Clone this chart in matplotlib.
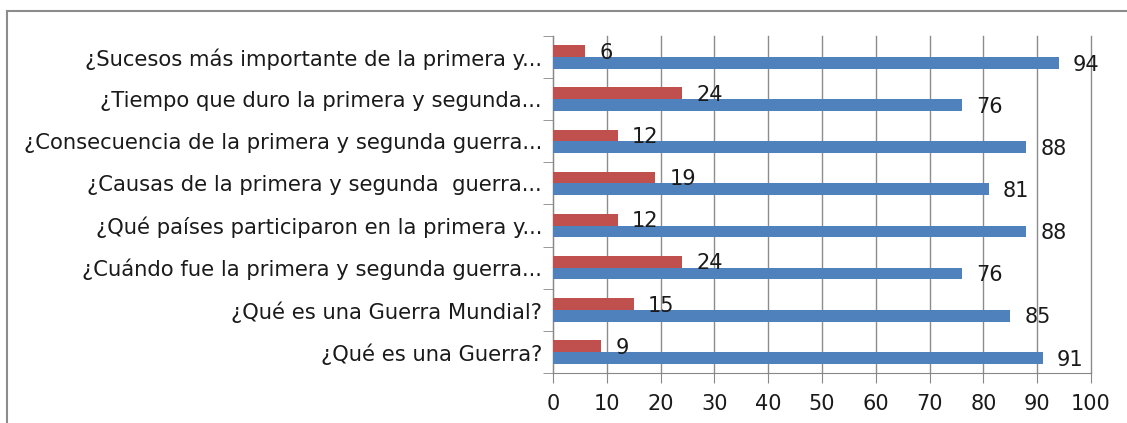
import numpy as np
import matplotlib.pyplot as plt
from matplotlib.lines import Line2D

categories = [
    '¿Sucesos más importante de la primera y...',
    '¿Tiempo que duro la primera y segunda...',
    '¿Consecuencia de la primera y segunda guerra...',
    '¿Causas de la primera y segunda  guerra...',
    '¿Qué países participaron en la primera y...',
    '¿Cuándo fue la primera y segunda guerra...',
    '¿Qué es una Guerra Mundial?',
    '¿Qué es una Guerra?',
]
red_vals = [6, 24, 12, 19, 12, 24, 15, 9]
blue_vals = [94, 76, 88, 81, 88, 76, 85, 91]

plt.rcParams['font.family'] = ['DejaVu Sans']

W, H = 1127, 423
fig = plt.figure(figsize=(W / 100, H / 100), dpi=100)
ax = fig.add_axes([553 / W, 1 - 373 / H, (1091 - 553) / W, (373 - 36) / H])

n = len(categories)
pos = np.arange(n)[::-1]
h = 0.28
ax.barh(pos + h / 2, red_vals, height=h, color='#c0504d', zorder=3)
ax.barh(pos - h / 2, blue_vals, height=h, color='#4f81bd', zorder=3)

fs = 15
for p, r, b in zip(pos, red_vals, blue_vals):
    ax.text(r + 2.6, p + h / 2 - 0.04, str(r), va='center', ha='left', fontsize=fs, color='#1a1a1a')
    ax.text(b + 2.6, p - h / 2 - 0.04, str(b), va='center', ha='left', fontsize=fs, color='#1a1a1a')

ax.set_xlim(0, 100)
ax.set_ylim(-0.5, n - 0.5)
ax.set_xticks(np.arange(0, 101, 10))
ax.set_yticks(pos)
ax.set_yticklabels(categories, fontsize=15.2, color='#1a1a1a')
ax.set_yticks(np.arange(-0.5, n, 1), minor=True)
ax.tick_params(axis='y', which='major', length=0, pad=8)
ax.tick_params(axis='y', which='minor', length=7, color='#888888')
ax.tick_params(axis='x', length=7, color='#888888', labelsize=fs, labelcolor='#1a1a1a', pad=8)
ax.xaxis.grid(True, color='#8c8c8c', linewidth=1, zorder=0)
for gl in ax.get_xgridlines():
    gl.set_clip_on(False)
for s in ['top', 'right']:
    ax.spines[s].set_visible(False)
for s in ['left', 'bottom']:
    ax.spines[s].set_color('#888888')

# outer chart border (left and top visible)
fig.add_artist(Line2D([7 / W, 7 / W], [0, 1 - 11 / H], transform=fig.transFigure, color='#8c8c8c', lw=1.5))
fig.add_artist(Line2D([7 / W, 1], [1 - 11 / H, 1 - 11 / H], transform=fig.transFigure, color='#8c8c8c', lw=1.5))

fig.savefig('out.png', dpi=100)
